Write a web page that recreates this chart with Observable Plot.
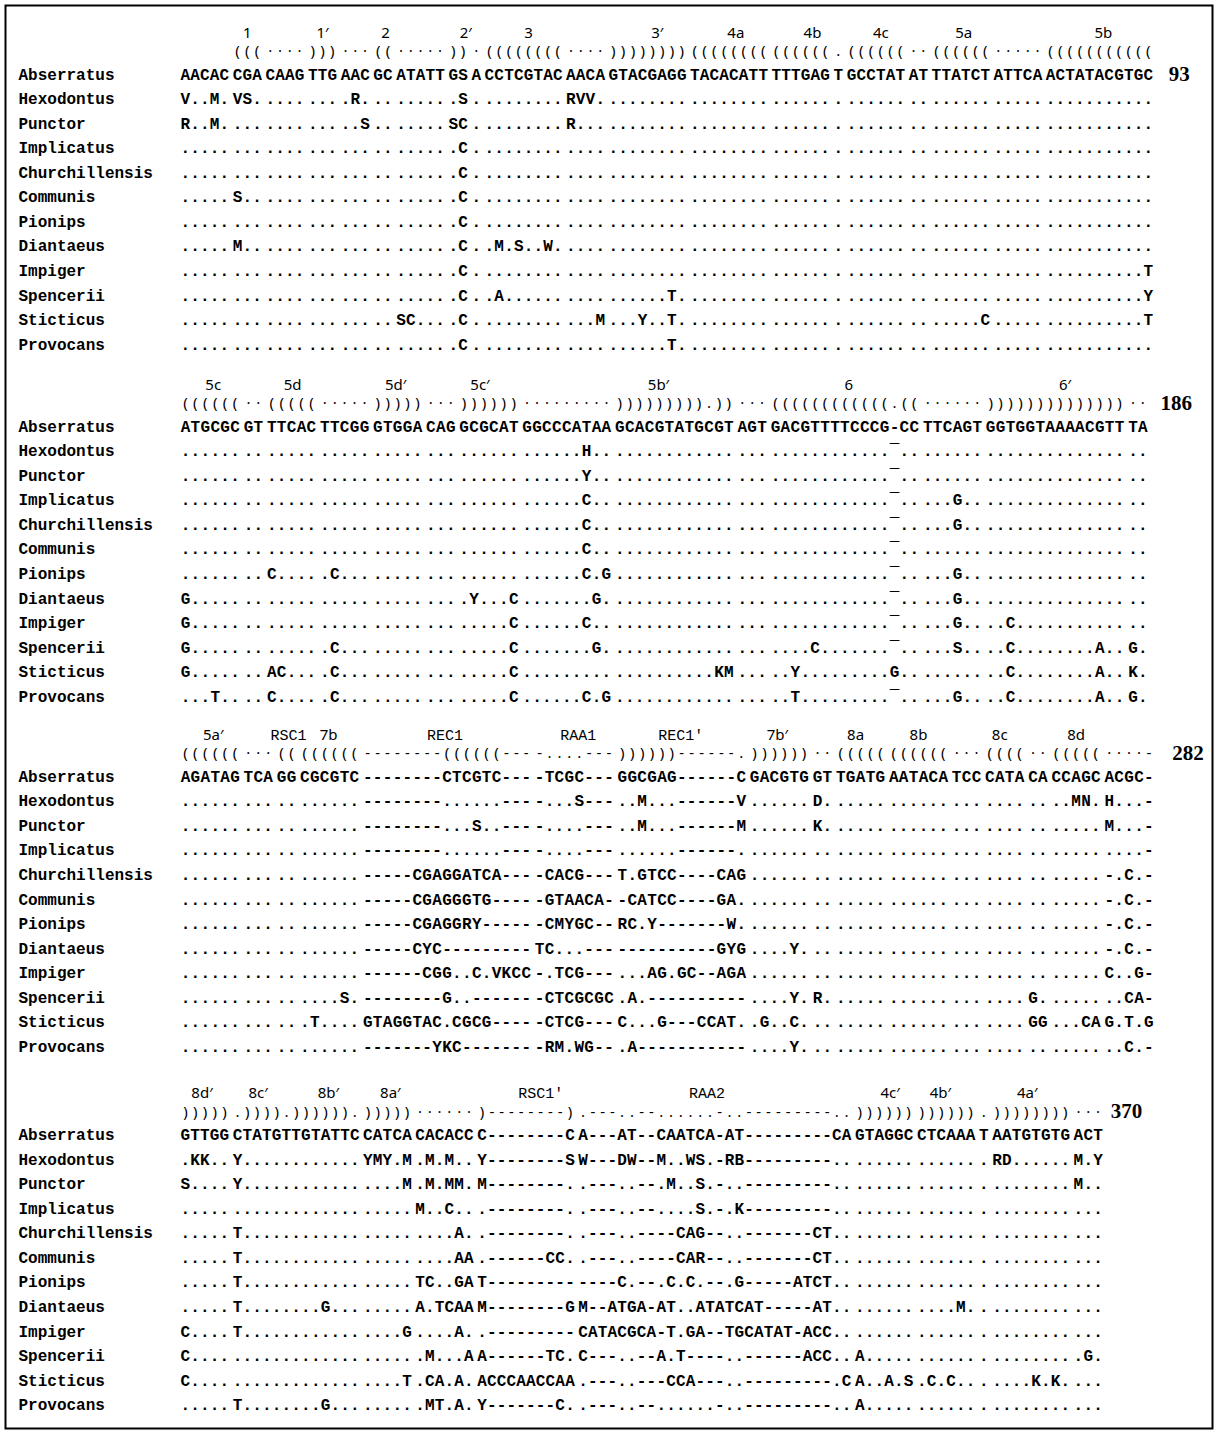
<!DOCTYPE html>
<html><head><meta charset="utf-8">
<script src="https://cdn.jsdelivr.net/npm/d3@7"></script>
<script src="https://cdn.jsdelivr.net/npm/@observablehq/plot@0.6"></script>
<style>body{margin:0;background:#fff}</style>
</head><body><div id="chart"></div>
<script>
const species = ["Abserratus","Hexodontus","Punctor","Implicatus","Churchillensis","Communis","Pionips","Diantaeus","Impiger","Spencerii","Sticticus","Provocans"];

const block1 = [
"AACAC CGA CAAG TTG AAC GC ATATT GS A CCTCGTAC AACA GTACGAGG TACACATT TTTGAG T GCCTAT AT TTATCT ATTCA ACTATACGTGC",
"V..M. VS. .... ... .R. .. ..... .S . ........ RVV. ........ ........ ...... . ...... .. ...... ..... ...........",
"R..M. ... .... ... ..S .. ..... SC . ........ R... ........ ........ ...... . ...... .. ...... ..... ...........",
"..... ... .... ... ... .. ..... .C . ........ .... ........ ........ ...... . ...... .. ...... ..... ...........",
"..... ... .... ... ... .. ..... .C . ........ .... ........ ........ ...... . ...... .. ...... ..... ...........",
"..... S.. .... ... ... .. ..... .C . ........ .... ........ ........ ...... . ...... .. ...... ..... ...........",
"..... ... .... ... ... .. ..... .C . ........ .... ........ ........ ...... . ...... .. ...... ..... ...........",
"..... M.. .... ... ... .. ..... .C . .M.S..W. .... ........ ........ ...... . ...... .. ...... ..... ...........",
"..... ... .... ... ... .. ..... .C . ........ .... ........ ........ ...... . ...... .. ...... ..... ..........T",
"..... ... .... ... ... .. ..... .C . .A...... .... ......T. ........ ...... . ...... .. ...... ..... ..........Y",
"..... ... .... ... ... .. SC... .C . ........ ...M ...Y..T. ........ ...... . ...... .. .....C ..... ..........T",
"..... ... .... ... ... .. ..... .C . ........ .... ......T. ........ ...... . ...... .. ...... ..... ..........."
];
const block2 = [
"ATGCGC GT TTCAC TTCGG GTGGA CAG GCGCAT GGCCCATAA GCACGTATGCGT AGT GACGTTTTCCCG-CC TTCAGT GGTGGTAAAACGTT TA",
"...... .. ..... ..... ..... ... ...... ......H.. ............ ... ............¯.. ...... .............. ..",
"...... .. ..... ..... ..... ... ...... ......Y.. ............ ... ............¯.. ...... .............. ..",
"...... .. ..... ..... ..... ... ...... ......C.. ............ ... ............¯.. ...G.. .............. ..",
"...... .. ..... ..... ..... ... ...... ......C.. ............ ... ............¯.. ...G.. .............. ..",
"...... .. ..... ..... ..... ... ...... ......C.. ............ ... ............¯.. ...... .............. ..",
"...... .. C.... .C... ..... ... ...... ......C.G ............ ... ............¯.. ...G.. .............. ..",
"G..... .. ..... ..... ..... ... .Y...C .......G. ............ ... ............¯.. ...G.. .............. ..",
"G..... .. ..... ..... ..... ... .....C ......C.. ............ ... ............¯.. ...G.. ..C........... ..",
"G..... .. ..... .C... ..... ... .....C .......G. ............ ... ....C.......¯.. ...S.. ..C........A.. G.",
"G..... .. AC... .C... ..... ... .....C ......... ..........KM ... ..Y.........G.. ...... ..C........A.. K.",
"...T.. .. C.... .C... ..... ... .....C ......C.G ............ ... ..T.........¯.. ...G.. ..C........A.. G."
];
const block3 = [
"AGATAG TCA GG CGCGTC --------CTCGTC--- -TCGC--- GGCGAG------C GACGTG GT TGATG AATACA TCC CATA CA CCAGC ACGC-",
"...... ... .. ...... --------......--- -...S--- ..M...------V ...... D. ..... ...... ... .... .. ..MN. H...-",
"...... ... .. ...... --------...S..--- -....--- ..M...------M ...... K. ..... ...... ... .... .. ..... M...-",
"...... ... .. ...... --------......--- -....--- ......------. ...... .. ..... ...... ... .... .. ..... ....-",
"...... ... .. ...... -----CGAGGATCA--- -CACG--- T.GTCC----CAG ...... .. ..... ...... ... .... .. ..... -.C.-",
"...... ... .. ...... -----CGAGGGTG---- -GTAACA- -CATCC----GA. ...... .. ..... ...... ... .... .. ..... -.C.-",
"...... ... .. ...... -----CGAGGRY----- -CMYGC-- RC.Y-------W. ...... .. ..... ...... ... .... .. ..... -.C.-",
"...... ... .. ...... -----CYC--------- TC...--- ----------GYG ....Y. .. ..... ...... ... .... .. ..... -.C.-",
"...... ... .. ...... ------CGG..C.VKCC -.TCG--- ...AG.GC--AGA ...... .. ..... ...... ... .... .. ..... C..G-",
"...... ... .. ....S. --------G..------ -CTCGCGC .A.---------- ....Y. R. ..... ...... ... .... G. ..... ..CA-",
"...... ... .. .T.... GTAGGTAC.CGCG---- -CTCG--- C...G---CCAT. .G..C. .. ..... ...... ... .... GG ...CA G.T.G",
"...... ... .. ...... -------YKC------- -RM.WG-- .A----------- ....Y. .. ..... ...... ... .... .. ..... ..C.-"
];
const block4 = [
"GTTGG CTATGTTGTATTC CATCA CACACC C--------C A---AT--CAATCA-AT---------CA GTAGGC CTCAAA T AATGTGTG ACT",
".KK.. Y............ YMY.M .M.M.. Y--------S W---DW--M..WS.-RB---------.. ...... ...... . RD...... M.Y",
"S.... Y............ ....M .M.MM. M--------. .---..--.M..S.-..---------.. ...... ...... . ........ M..",
"..... ............. ..... M..C.. .--------. .---..--....S.-.K---------.. ...... ...... . ........ ...",
"..... T............ ..... ....A. .--------. .---..----CAG--..-------CT.. ...... ...... . ........ ...",
"..... T............ ..... ....AA .------CC. .---..----CAR--..-------CT.. ...... ...... . ........ ...",
"..... T............ ..... TC..GA T--------- ----C.--.C.C.--.G-----ATCT.. ...... ...... . ........ ...",
"..... T........G... ..... A.TCAA M--------G M--ATGA-AT..ATATCAT-----AT.. ...... ....M. . ........ ...",
"C.... T............ ....G ....A. .--------- CATACGCA-T.GA--TGCATAT-ACC.. ...... ...... . ........ ...",
"C.... ............. ..... .M...A A------TC. C---..--A.T----..------ACC.. A..... ...... . ........ .G.",
"C.... ............. ....T .CA.A. ACCCAACCAA .---..---CCA---..---------.C A..A.S .C.C.. . ....K.K. ...",
"..... T........G... ..... .MT.A. Y-------C. .---..--......-..---------.. A..... ...... . ........ ..."
];

// secondary-structure notation rows ("_" = empty column)
const brackets1 = "_____ ((( ···· ))) ··· (( ····· )) · (((((((( ···· )))))))) (((((((( (((((( . (((((( ·· (((((( ····· (((((((((((";
const brackets2 = "(((((( ·· ((((( ····· ))))) ··· )))))) ········· ))))))))).)) ··· ((((((((((((.(( ······ )))))))))))))) ··";
const brackets3 = "(((((( ··· (( (((((( --------((((((--- -....--- ))))))------. )))))) ·· ((((( (((((( ··· (((( ·· ((((( ····-";
const brackets4 = "))))) .)))).)))))). ))))) ······ )--------) .---..--......-..---------.. )))))) )))))) . )))))))) ···";

// stem labels: [text, column of the reference sequence, font kind]
const labels1 = [["1",6],["1′",13],["2",18.75],["2′",26.2],["3",32],["3′",44.5],["4a",52.2],["4b",59.7],["4c",66],["5a",73.8],["5b",87.4]];
const labels2 = [["5c",2.8],["5d",10.1],["5d′",19.8],["5c′",27.6],["5b′",44.9],["6",63.4],["6′",84.5]];
const labels3 = [["5a′",2.8],["RSC1",9.7,"mono"],["7b",13.4],["REC1",24.8,"mono"],["RAA1",37.9,"mono"],["REC1′",47.9,"mono"],["7b′",57.3],["8a",64.5],["8b",70.5],["8c",78],["8d",85]];
const labels4 = [["8d′",1.7],["8c′",7.1],["8b′",14.3],["8a′",20.3],["RSC1′",35,"mono"],["RAA2",51.7,"mono"],["4c′",70.1],["4b′",74.9],["4a′",83.1]];

const endNumbers = ["93","186","282","370"];

// ---- layout ----
const GAP = 0.35, X0 = 180, ADV = 9.76, Y0 = 74, STEP = 24.55;
const blockShift = [0, 14.34, 28.6, 43.2];
const blockStretch = [1, 1.016, 1.015, 1];
const endOffset = [1.6, 1.3, 1.9, 0.8];
const LABEL_LINE = -1.7, BRACKET_LINE = -0.95;
const endLine = [0, BRACKET_LINE, BRACKET_LINE, BRACKET_LINE];

function layout(str) {
  const chars = []; let u = 0;
  for (const ch of str) {
    if (ch === " ") { u += GAP; continue; }
    chars.push({ch, u: u + 0.5}); u += 1;
  }
  return {chars, end: u};
}
function colToUnit(chars, c) {
  const i = Math.floor(c), f = c - i;
  const a = chars[Math.min(i, chars.length - 1)].u;
  const b = i + 1 < chars.length ? chars[i + 1].u : a + 1;
  return a + f * (b - a);
}

const blocks = [block1, block2, block3, block4];
const brackets = [brackets1, brackets2, brackets3, brackets4];
const labels = [labels1, labels2, labels3, labels4];

const refCells = [], seqCells = [], bracketCells = [], labelCells = [], nameCells = [], endCells = [];
blocks.forEach((rows, b) => {
  const s = blockStretch[b];
  rows.forEach((str, r) => {
    const target = r === 0 ? refCells : seqCells;
    for (const {ch, u} of layout(str).chars) target.push({x: u * s, y: blockShift[b] + r, ch});
    nameCells.push({y: blockShift[b] + r, name: species[r]});
  });
  const br = layout(brackets[b]);
  for (const {ch, u} of br.chars) if (ch !== "_") bracketCells.push({x: u * s, y: blockShift[b] + BRACKET_LINE, ch});
  const ref = layout(rows[0]);
  labels[b].forEach(([t, c, kind]) => labelCells.push({x: colToUnit(ref.chars, c) * s, y: blockShift[b] + LABEL_LINE, t, mono: kind === "mono"}));
  endCells.push({x: Math.max(ref.end, br.end) * s + endOffset[b], y: blockShift[b] + endLine[b], t: endNumbers[b]});
});

const mono = "Liberation Mono, DejaVu Sans Mono, monospace";
const sans = "Noto Sans, DejaVu Sans, sans-serif";

const plot = Plot.plot({
  width: 1217, height: 1433, margin: 0,
  x: {domain: [0, 100], range: [X0, X0 + 100 * ADV], axis: null},
  y: {domain: [0, 1], range: [Y0, Y0 + STEP], axis: null},
  marks: [
    Plot.frame({stroke: "black", strokeWidth: 2, inset: 5}),
    Plot.text(nameCells, {frameAnchor: "left", dx: 18, y: "y", text: "name", textAnchor: "start", fontFamily: mono, fontWeight: "bold", fontSize: 16, fill: "black"}),
    Plot.text(refCells, {x: "x", y: "y", text: "ch", fontFamily: mono, fontWeight: "bold", fontSize: 16, fill: "black"}),
    Plot.text(seqCells, {x: "x", y: "y", text: "ch", fontFamily: mono, fontWeight: "bold", fontSize: 16, fill: "black"}),
    Plot.text(bracketCells, {x: "x", y: "y", text: "ch", fontFamily: sans, fontSize: 15, fill: "black"}),
    Plot.text(labelCells.filter(d => !d.mono), {x: "x", y: "y", text: "t", fontFamily: sans, fontSize: 15, fill: "black"}),
    Plot.text(labelCells.filter(d => d.mono), {x: "x", y: "y", text: "t", fontFamily: mono, fontSize: 15, fill: "black"}),
    Plot.text(endCells, {x: "x", y: "y", text: "t", textAnchor: "start", fontFamily: "Liberation Serif, Times New Roman, serif", fontWeight: "bold", fontSize: 21, fill: "black"})
  ]
});
document.getElementById("chart").append(plot);
</script>
</body></html>
